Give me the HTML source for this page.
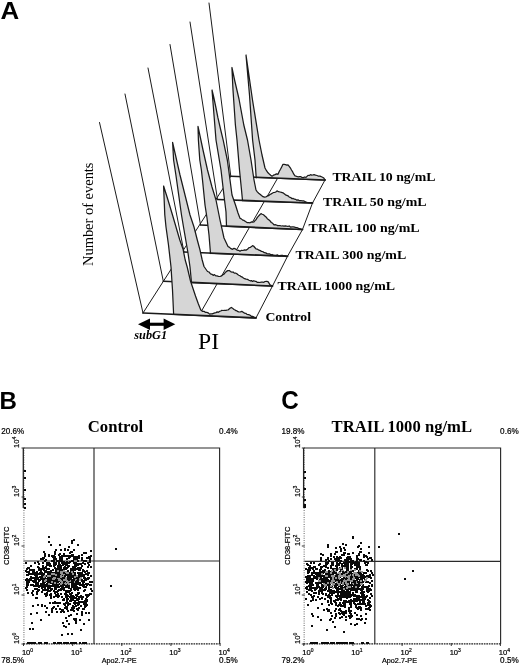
<!DOCTYPE html>
<html lang="en"><head><meta charset="utf-8"><title>Figure</title>
<style>html,body{margin:0;padding:0;background:#fff}svg{display:block}.s{font-family:"Liberation Serif",serif}.a{font-family:"Liberation Sans",sans-serif}</style>
</head><body>
<svg width="520" height="666" viewBox="0 0 520 666">
<rect width="520" height="666" fill="#fff"/>
<g fill="none" stroke="#1a1a1a" stroke-width="1" stroke-linecap="round" stroke-linejoin="round">
<path d="M143,313 L230.8,176.3"/>
<path d="M256,317.9 L272.5,286 L287.5,256.3 L302.5,229.5 L312.5,203 L325,180"/>
<path d="M199,315.4 L277.5,178.4"/>
<path d="M209,3 L230.8,176.3"/>
<path d="M230.8,176.3 L325,180" stroke-width="1.6"/>
<path d="M256.2,177.8 L255.0,160.0 L252.6,140.0 L249.5,95.0 L246.0,55.0 L252.5,100.0 L259.0,140.0 L262.0,155.0 L265.0,168.0 L266.5,170.7 L268.0,172.8 L269.3,174.0 L270.7,175.2 L272.0,176.2 L273.5,175.2 L275.0,174.6 L276.5,173.9 L278.0,174.3 L279.2,171.5 L280.5,169.2 L281.8,166.7 L283.0,164.3 L284.2,164.4 L285.5,164.6 L286.8,165.1 L288.0,164.8 L289.2,166.3 L290.3,167.8 L291.5,170.0 L292.7,171.9 L293.8,174.2 L295.0,175.9 L296.2,176.2 L297.3,176.7 L298.5,176.9 L299.7,176.6 L300.8,176.7 L302.0,177.4 L303.3,177.6 L304.7,177.0 L306.0,177.4 L307.0,176.4 L308.0,175.4 L309.2,175.5 L310.5,174.7 L311.7,175.2 L312.8,175.0 L314.0,174.6 L315.5,175.2 L317.0,175.5 L318.5,176.2 L320.0,176.1 L321.5,176.8 L323.0,177.5 L324.0,178.3 L325.0,180.0 L325,180 L256.2,177.3 Z" fill="#d6d6d6" stroke="none"/>
<path d="M256.2,177.8 L255.0,160.0 L252.6,140.0 L249.5,95.0 L246.0,55.0 L252.5,100.0 L259.0,140.0 L262.0,155.0 L265.0,168.0 L266.5,170.7 L268.0,172.8 L269.3,174.0 L270.7,175.2 L272.0,176.2 L273.5,175.2 L275.0,174.6 L276.5,173.9 L278.0,174.3 L279.2,171.5 L280.5,169.2 L281.8,166.7 L283.0,164.3 L284.2,164.4 L285.5,164.6 L286.8,165.1 L288.0,164.8 L289.2,166.3 L290.3,167.8 L291.5,170.0 L292.7,171.9 L293.8,174.2 L295.0,175.9 L296.2,176.2 L297.3,176.7 L298.5,176.9 L299.7,176.6 L300.8,176.7 L302.0,177.4 L303.3,177.6 L304.7,177.0 L306.0,177.4 L307.0,176.4 L308.0,175.4 L309.2,175.5 L310.5,174.7 L311.7,175.2 L312.8,175.0 L314.0,174.6 L315.5,175.2 L317.0,175.5 L318.5,176.2 L320.0,176.1 L321.5,176.8 L323.0,177.5 L324.0,178.3 L325.0,180.0" stroke-width="1.25"/>
<path d="M256.2,177.3 L325,180" stroke-width="1.6"/>
<path d="M190,22 L217.5,199.5"/>
<path d="M217.5,199.5 L312.5,203" stroke-width="1.6"/>
<path d="M242.5,200.5 L241.5,190.0 L239.5,170.0 L237.0,140.0 L235.4,125.0 L233.0,90.0 L231.9,67.5 L234.8,81.0 L239.0,99.0 L243.8,125.0 L247.5,140.0 L251.0,160.0 L254.0,180.0 L256.0,190.0 L257.3,191.9 L258.7,193.2 L260.0,194.2 L261.5,195.5 L263.0,196.7 L264.5,197.2 L265.8,197.0 L267.0,196.2 L268.5,195.7 L270.0,194.5 L271.2,193.9 L272.3,193.2 L273.5,192.5 L274.7,192.4 L275.8,192.0 L277.0,190.9 L278.5,191.7 L280.0,192.0 L281.5,192.3 L283.0,192.8 L284.2,193.7 L285.5,194.8 L286.8,195.3 L288.0,195.8 L289.3,197.1 L290.7,197.5 L292.0,198.7 L293.2,198.4 L294.4,199.2 L295.6,199.3 L296.8,200.2 L298.0,199.8 L299.4,200.7 L300.8,200.5 L302.2,200.8 L303.6,200.9 L305.0,201.5 L306.2,202.2 L307.5,202.5 L308.8,202.7 L310.0,202.6 L311.2,202.5 L312.5,203.0 L312.5,203 L242.5,200.4 Z" fill="#d6d6d6" stroke="none"/>
<path d="M242.5,200.5 L241.5,190.0 L239.5,170.0 L237.0,140.0 L235.4,125.0 L233.0,90.0 L231.9,67.5 L234.8,81.0 L239.0,99.0 L243.8,125.0 L247.5,140.0 L251.0,160.0 L254.0,180.0 L256.0,190.0 L257.3,191.9 L258.7,193.2 L260.0,194.2 L261.5,195.5 L263.0,196.7 L264.5,197.2 L265.8,197.0 L267.0,196.2 L268.5,195.7 L270.0,194.5 L271.2,193.9 L272.3,193.2 L273.5,192.5 L274.7,192.4 L275.8,192.0 L277.0,190.9 L278.5,191.7 L280.0,192.0 L281.5,192.3 L283.0,192.8 L284.2,193.7 L285.5,194.8 L286.8,195.3 L288.0,195.8 L289.3,197.1 L290.7,197.5 L292.0,198.7 L293.2,198.4 L294.4,199.2 L295.6,199.3 L296.8,200.2 L298.0,199.8 L299.4,200.7 L300.8,200.5 L302.2,200.8 L303.6,200.9 L305.0,201.5 L306.2,202.2 L307.5,202.5 L308.8,202.7 L310.0,202.6 L311.2,202.5 L312.5,203.0" stroke-width="1.25"/>
<path d="M242.5,200.4 L312.5,203" stroke-width="1.6"/>
<path d="M170,44.5 L200.5,225"/>
<path d="M200.5,225 L302.5,229.5" stroke-width="1.6"/>
<path d="M226.5,226.0 L226.0,212.0 L224.5,200.0 L221.0,170.0 L216.0,140.0 L212.0,90.0 L213.8,97.5 L216.0,108.0 L217.9,117.7 L220.5,129.0 L223.3,140.6 L227.3,160.0 L228.7,170.0 L232.0,195.0 L235.5,205.0 L238.0,213.0 L240.0,218.3 L241.3,218.9 L242.7,220.1 L244.0,220.4 L245.5,221.6 L247.0,222.6 L248.5,222.5 L250.0,222.8 L251.3,221.9 L252.7,222.1 L254.0,221.8 L255.0,220.6 L256.0,219.8 L257.2,217.6 L258.5,216.1 L259.8,214.7 L261.0,213.6 L262.2,214.2 L263.5,214.8 L264.8,215.9 L266.0,216.9 L267.3,218.7 L268.7,219.7 L270.0,220.8 L271.3,222.5 L272.7,223.3 L274.0,224.8 L275.2,224.7 L276.4,225.0 L277.6,225.6 L278.8,225.5 L280.0,225.7 L281.3,226.0 L282.7,225.9 L284.0,226.1 L285.3,225.9 L286.7,226.2 L288.0,226.4 L289.3,226.0 L290.7,227.2 L292.0,226.9 L293.3,226.9 L294.7,227.1 L296.0,227.7 L297.3,227.7 L298.6,228.4 L299.9,228.7 L301.2,229.3 L302.5,229.5 L302.5,229.5 L226.5,226.1 Z" fill="#d6d6d6" stroke="none"/>
<path d="M226.5,226.0 L226.0,212.0 L224.5,200.0 L221.0,170.0 L216.0,140.0 L212.0,90.0 L213.8,97.5 L216.0,108.0 L217.9,117.7 L220.5,129.0 L223.3,140.6 L227.3,160.0 L228.7,170.0 L232.0,195.0 L235.5,205.0 L238.0,213.0 L240.0,218.3 L241.3,218.9 L242.7,220.1 L244.0,220.4 L245.5,221.6 L247.0,222.6 L248.5,222.5 L250.0,222.8 L251.3,221.9 L252.7,222.1 L254.0,221.8 L255.0,220.6 L256.0,219.8 L257.2,217.6 L258.5,216.1 L259.8,214.7 L261.0,213.6 L262.2,214.2 L263.5,214.8 L264.8,215.9 L266.0,216.9 L267.3,218.7 L268.7,219.7 L270.0,220.8 L271.3,222.5 L272.7,223.3 L274.0,224.8 L275.2,224.7 L276.4,225.0 L277.6,225.6 L278.8,225.5 L280.0,225.7 L281.3,226.0 L282.7,225.9 L284.0,226.1 L285.3,225.9 L286.7,226.2 L288.0,226.4 L289.3,226.0 L290.7,227.2 L292.0,226.9 L293.3,226.9 L294.7,227.1 L296.0,227.7 L297.3,227.7 L298.6,228.4 L299.9,228.7 L301.2,229.3 L302.5,229.5" stroke-width="1.25"/>
<path d="M226.5,226.1 L302.5,229.5" stroke-width="1.6"/>
<path d="M148,68 L184,252"/>
<path d="M184,252 L287.5,256.3" stroke-width="1.6"/>
<path d="M210.5,253.5 L209.0,235.0 L207.0,218.0 L205.0,205.0 L202.5,180.0 L201.4,170.0 L199.8,160.0 L198.4,140.0 L198.0,126.4 L203.0,150.0 L207.5,170.0 L212.0,187.0 L216.0,200.0 L220.0,220.0 L224.0,238.0 L228.0,246.5 L229.5,247.4 L231.0,248.7 L232.5,249.3 L234.0,248.4 L235.5,248.9 L237.0,250.1 L238.5,250.3 L240.0,251.2 L241.5,250.3 L243.0,250.5 L244.5,249.9 L246.0,250.1 L247.5,249.2 L249.0,247.6 L250.2,247.5 L251.5,246.6 L252.5,245.7 L253.5,246.0 L254.8,247.5 L256.0,248.9 L257.5,249.2 L259.0,250.2 L260.3,250.6 L261.7,251.5 L263.0,251.7 L264.3,252.7 L265.7,252.9 L267.0,253.6 L268.2,253.9 L269.5,253.8 L270.8,254.8 L272.0,254.5 L273.3,255.1 L274.7,255.4 L276.0,255.3 L277.3,254.9 L278.7,255.8 L280.0,255.7 L281.2,255.4 L282.5,255.3 L283.8,256.0 L285.0,255.6 L286.2,256.7 L287.5,256.3 L287.5,256.3 L210.5,253.1 Z" fill="#d6d6d6" stroke="none"/>
<path d="M210.5,253.5 L209.0,235.0 L207.0,218.0 L205.0,205.0 L202.5,180.0 L201.4,170.0 L199.8,160.0 L198.4,140.0 L198.0,126.4 L203.0,150.0 L207.5,170.0 L212.0,187.0 L216.0,200.0 L220.0,220.0 L224.0,238.0 L228.0,246.5 L229.5,247.4 L231.0,248.7 L232.5,249.3 L234.0,248.4 L235.5,248.9 L237.0,250.1 L238.5,250.3 L240.0,251.2 L241.5,250.3 L243.0,250.5 L244.5,249.9 L246.0,250.1 L247.5,249.2 L249.0,247.6 L250.2,247.5 L251.5,246.6 L252.5,245.7 L253.5,246.0 L254.8,247.5 L256.0,248.9 L257.5,249.2 L259.0,250.2 L260.3,250.6 L261.7,251.5 L263.0,251.7 L264.3,252.7 L265.7,252.9 L267.0,253.6 L268.2,253.9 L269.5,253.8 L270.8,254.8 L272.0,254.5 L273.3,255.1 L274.7,255.4 L276.0,255.3 L277.3,254.9 L278.7,255.8 L280.0,255.7 L281.2,255.4 L282.5,255.3 L283.8,256.0 L285.0,255.6 L286.2,256.7 L287.5,256.3" stroke-width="1.25"/>
<path d="M210.5,253.1 L287.5,256.3" stroke-width="1.6"/>
<path d="M125,94 L163.3,281.2"/>
<path d="M163.3,281.2 L272.5,286" stroke-width="1.6"/>
<path d="M191.5,282.6 L190.0,267.0 L188.0,253.0 L183.5,227.0 L181.5,215.0 L175.9,175.0 L173.6,160.0 L172.6,142.3 L180.0,175.0 L185.0,195.0 L190.0,215.0 L194.0,227.0 L197.3,240.0 L200.0,250.0 L202.2,260.0 L204.0,266.5 L207.5,271.5 L209.0,272.0 L210.5,273.8 L212.0,274.3 L213.2,275.4 L214.5,274.6 L215.8,275.9 L217.0,275.9 L218.5,276.3 L220.0,276.5 L221.5,275.9 L222.8,274.8 L224.0,274.1 L225.2,272.5 L226.5,271.4 L227.8,270.6 L229.2,270.5 L230.6,271.6 L232.0,272.2 L233.1,272.0 L234.3,273.1 L235.4,273.0 L236.6,273.5 L237.7,274.5 L238.8,275.2 L240.0,275.8 L241.2,276.7 L242.3,277.1 L243.4,278.0 L244.6,278.7 L246.1,279.2 L247.5,279.4 L249.0,280.2 L250.2,280.8 L251.4,280.6 L252.6,281.4 L253.8,280.7 L255.0,281.3 L256.2,281.4 L257.5,282.4 L258.8,282.4 L260.0,282.5 L261.2,282.0 L262.5,282.0 L263.8,282.3 L265.0,281.5 L266.5,281.3 L268.0,281.6 L269.0,283.2 L270.0,284.8 L271.2,285.4 L272.5,286.0 L272.5,286 L191.5,282.4 Z" fill="#d6d6d6" stroke="none"/>
<path d="M191.5,282.6 L190.0,267.0 L188.0,253.0 L183.5,227.0 L181.5,215.0 L175.9,175.0 L173.6,160.0 L172.6,142.3 L180.0,175.0 L185.0,195.0 L190.0,215.0 L194.0,227.0 L197.3,240.0 L200.0,250.0 L202.2,260.0 L204.0,266.5 L207.5,271.5 L209.0,272.0 L210.5,273.8 L212.0,274.3 L213.2,275.4 L214.5,274.6 L215.8,275.9 L217.0,275.9 L218.5,276.3 L220.0,276.5 L221.5,275.9 L222.8,274.8 L224.0,274.1 L225.2,272.5 L226.5,271.4 L227.8,270.6 L229.2,270.5 L230.6,271.6 L232.0,272.2 L233.1,272.0 L234.3,273.1 L235.4,273.0 L236.6,273.5 L237.7,274.5 L238.8,275.2 L240.0,275.8 L241.2,276.7 L242.3,277.1 L243.4,278.0 L244.6,278.7 L246.1,279.2 L247.5,279.4 L249.0,280.2 L250.2,280.8 L251.4,280.6 L252.6,281.4 L253.8,280.7 L255.0,281.3 L256.2,281.4 L257.5,282.4 L258.8,282.4 L260.0,282.5 L261.2,282.0 L262.5,282.0 L263.8,282.3 L265.0,281.5 L266.5,281.3 L268.0,281.6 L269.0,283.2 L270.0,284.8 L271.2,285.4 L272.5,286.0" stroke-width="1.25"/>
<path d="M191.5,282.4 L272.5,286" stroke-width="1.6"/>
<path d="M99.5,122.5 L143,313"/>
<path d="M143,313 L256,317.9" stroke-width="1.6"/>
<path d="M173.6,313.8 L172.5,290.0 L171.0,267.0 L168.5,245.0 L166.0,227.0 L164.8,215.0 L163.6,186.0 L168.0,200.0 L172.5,215.0 L176.0,227.0 L179.8,240.0 L183.0,249.0 L185.2,260.0 L187.2,267.0 L190.5,281.0 L195.5,296.0 L198.4,304.0 L200.8,310.0 L202.4,311.3 L204.0,311.4 L205.4,312.3 L206.8,312.4 L208.1,312.8 L209.5,314.1 L210.8,313.8 L212.2,313.8 L213.5,313.3 L214.8,312.9 L216.0,312.6 L217.2,311.9 L218.3,312.3 L219.5,311.4 L220.7,311.0 L221.8,310.4 L223.0,310.5 L224.5,310.3 L226.0,310.4 L227.2,310.0 L228.3,309.8 L230.0,308.3 L231.3,307.5 L233.0,308.6 L234.0,309.5 L235.0,309.9 L236.0,310.7 L237.0,310.9 L238.0,311.7 L239.0,312.0 L240.4,311.8 L241.8,311.4 L243.2,312.3 L244.5,313.1 L245.8,313.3 L247.0,314.4 L248.5,314.7 L250.0,315.1 L251.3,316.3 L252.6,316.4 L253.9,317.1 L255.2,317.3 L256,317.9 L173.6,314.3 Z" fill="#d6d6d6" stroke="none"/>
<path d="M173.6,313.8 L172.5,290.0 L171.0,267.0 L168.5,245.0 L166.0,227.0 L164.8,215.0 L163.6,186.0 L168.0,200.0 L172.5,215.0 L176.0,227.0 L179.8,240.0 L183.0,249.0 L185.2,260.0 L187.2,267.0 L190.5,281.0 L195.5,296.0 L198.4,304.0 L200.8,310.0 L202.4,311.3 L204.0,311.4 L205.4,312.3 L206.8,312.4 L208.1,312.8 L209.5,314.1 L210.8,313.8 L212.2,313.8 L213.5,313.3 L214.8,312.9 L216.0,312.6 L217.2,311.9 L218.3,312.3 L219.5,311.4 L220.7,311.0 L221.8,310.4 L223.0,310.5 L224.5,310.3 L226.0,310.4 L227.2,310.0 L228.3,309.8 L230.0,308.3 L231.3,307.5 L233.0,308.6 L234.0,309.5 L235.0,309.9 L236.0,310.7 L237.0,310.9 L238.0,311.7 L239.0,312.0 L240.4,311.8 L241.8,311.4 L243.2,312.3 L244.5,313.1 L245.8,313.3 L247.0,314.4 L248.5,314.7 L250.0,315.1 L251.3,316.3 L252.6,316.4 L253.9,317.1 L255.2,317.3" stroke-width="1.25"/>
<path d="M173.6,314.3 L256,317.9" stroke-width="1.6"/>
</g>
<g fill="#000" stroke="none">
<rect x="147" y="322.7" width="20" height="3.1"/>
<path d="M138,324.2 L150,318.4 L150,330 Z"/>
<path d="M175.3,324.2 L163.6,318.4 L163.6,330 Z"/>
</g>
<g fill="#000">
<text class="a" x="0.5" y="18.6" font-size="24.8" font-weight="bold" textLength="18.7" lengthAdjust="spacingAndGlyphs">A</text>
<text class="a" x="-0.5" y="409.2" font-size="24.8" font-weight="bold" textLength="17.4" lengthAdjust="spacingAndGlyphs">B</text>
<text class="a" x="281.2" y="409.3" font-size="26" font-weight="bold" textLength="17.5" lengthAdjust="spacingAndGlyphs">C</text>
<text class="s" transform="translate(93,266) rotate(-90)" font-size="15.6" textLength="103.5" lengthAdjust="spacingAndGlyphs">Number of events</text>
<text class="s" x="134.3" y="338.8" font-size="12" font-weight="bold" font-style="italic" textLength="32.8" lengthAdjust="spacingAndGlyphs">subG1</text>
<text class="s" x="198" y="349.3" font-size="23.6" textLength="21" lengthAdjust="spacingAndGlyphs">PI</text>
<text class="s" x="332.4" y="181" font-size="13" font-weight="bold" textLength="103" lengthAdjust="spacingAndGlyphs">TRAIL 10 ng/mL</text>
<text class="s" x="323" y="206.4" font-size="13" font-weight="bold" textLength="103.6" lengthAdjust="spacingAndGlyphs">TRAIL 50 ng/mL</text>
<text class="s" x="308.6" y="232" font-size="13" font-weight="bold" textLength="111" lengthAdjust="spacingAndGlyphs">TRAIL 100 ng/mL</text>
<text class="s" x="295.4" y="258.8" font-size="13" font-weight="bold" textLength="110.8" lengthAdjust="spacingAndGlyphs">TRAIL 300 ng/mL</text>
<text class="s" x="277.6" y="289.8" font-size="13" font-weight="bold" textLength="117.4" lengthAdjust="spacingAndGlyphs">TRAIL 1000 ng/mL</text>
<text class="s" x="265.4" y="321.3" font-size="13" font-weight="bold" textLength="45.6" lengthAdjust="spacingAndGlyphs">Control</text>
</g>
<g>
<g fill="none" stroke="#2a2a2a" stroke-width="1.15">
<path d="M23.5,448 H219.6 V644"/>
<path d="M94,448 V644"/>
<path d="M23.5,561 H219.6"/>
</g>
<path d="M23.9,448 V644" stroke="#999" stroke-width="1.5" stroke-dasharray="1 1.3" fill="none"/>
<path d="M23.3,448 V508" stroke="#222" stroke-width="1.3" fill="none"/>
<path d="M23.5,643.8 H219.6" stroke="#222" stroke-width="1.3" stroke-dasharray="1.7 0.8" fill="none"/>
<path d="M21.5,644 H24.5 M23.5,643 V646 M21.5,595 H24.5 M72.65,643 V646 M21.5,546 H24.5 M121.8,643 V646 M21.5,497 H24.5 M170.95,643 V646 M21.5,448 H24.5 M220.1,643 V646" stroke="#333" stroke-width="1" fill="none"/>
<path d="M62,586h2v2h-2zM64,574h2v2h-2zM59,568h2v2h-2zM45,567h2v2h-2zM78,577h2v2h-2zM57,590h2v2h-2zM57,579h2v2h-2zM28,579h2v2h-2zM41,587h2v2h-2zM81,580h2v2h-2zM67,566h2v2h-2zM43,578h2v2h-2zM40,577h2v2h-2zM67,565h2v2h-2zM38,586h2v2h-2zM52,575h2v2h-2zM65,579h2v2h-2zM47,572h2v2h-2zM62,574h2v2h-2zM31,592h2v2h-2zM62,583h2v2h-2zM37,578h2v2h-2zM54,584h2v2h-2zM42,584h2v2h-2zM66,571h2v2h-2zM65,586h2v2h-2zM57,575h2v2h-2zM64,584h2v2h-2zM56,584h2v2h-2zM30,573h2v2h-2zM56,572h2v2h-2zM73,567h2v2h-2zM64,580h2v2h-2zM69,581h2v2h-2zM74,572h2v2h-2zM74,597h2v2h-2zM49,573h2v2h-2zM27,584h2v2h-2zM59,577h2v2h-2zM40,583h2v2h-2zM74,569h2v2h-2zM86,578h2v2h-2zM54,579h2v2h-2zM36,571h2v2h-2zM49,586h2v2h-2zM83,577h2v2h-2zM54,576h2v2h-2zM26,589h2v2h-2zM49,590h2v2h-2zM73,580h2v2h-2zM70,577h2v2h-2zM38,585h2v2h-2zM54,591h2v2h-2zM77,568h2v2h-2zM43,573h2v2h-2zM63,575h2v2h-2zM58,595h2v2h-2zM60,568h2v2h-2zM77,563h2v2h-2zM74,584h2v2h-2zM64,572h2v2h-2zM63,567h2v2h-2zM62,578h2v2h-2zM70,579h2v2h-2zM36,588h2v2h-2zM84,571h2v2h-2zM69,581h2v2h-2zM77,592h2v2h-2zM63,569h2v2h-2zM34,562h2v2h-2zM62,573h2v2h-2zM39,568h2v2h-2zM45,584h2v2h-2zM78,577h2v2h-2zM27,580h2v2h-2zM58,572h2v2h-2zM56,582h2v2h-2zM26,579h2v2h-2zM62,583h2v2h-2zM66,567h2v2h-2zM68,585h2v2h-2zM26,581h2v2h-2zM25,587h2v2h-2zM72,581h2v2h-2zM71,584h2v2h-2zM65,578h2v2h-2zM47,581h2v2h-2zM58,577h2v2h-2zM66,574h2v2h-2zM48,585h2v2h-2zM68,591h2v2h-2zM46,568h2v2h-2zM84,600h2v2h-2zM77,575h2v2h-2zM85,583h2v2h-2zM54,572h2v2h-2zM63,569h2v2h-2zM78,592h2v2h-2zM47,584h2v2h-2zM67,582h2v2h-2zM73,585h2v2h-2zM42,558h2v2h-2zM60,579h2v2h-2zM73,572h2v2h-2zM48,571h2v2h-2zM81,575h2v2h-2zM69,593h2v2h-2zM42,576h2v2h-2zM60,567h2v2h-2zM78,569h2v2h-2zM55,587h2v2h-2zM56,584h2v2h-2zM73,586h2v2h-2zM37,573h2v2h-2zM69,576h2v2h-2zM71,579h2v2h-2zM70,575h2v2h-2zM74,589h2v2h-2zM58,586h2v2h-2zM38,569h2v2h-2zM52,576h2v2h-2zM35,581h2v2h-2zM82,562h2v2h-2zM56,582h2v2h-2zM53,585h2v2h-2zM91,581h2v2h-2zM56,578h2v2h-2zM68,565h2v2h-2zM51,585h2v2h-2zM71,579h2v2h-2zM58,578h2v2h-2zM44,579h2v2h-2zM27,581h2v2h-2zM42,577h2v2h-2zM37,582h2v2h-2zM89,581h2v2h-2zM59,564h2v2h-2zM56,581h2v2h-2zM53,577h2v2h-2zM60,581h2v2h-2zM74,574h2v2h-2zM37,583h2v2h-2zM84,586h2v2h-2zM53,562h2v2h-2zM45,584h2v2h-2zM51,581h2v2h-2zM84,563h2v2h-2zM53,565h2v2h-2zM42,585h2v2h-2zM47,577h2v2h-2zM67,578h2v2h-2zM66,598h2v2h-2zM50,588h2v2h-2zM47,576h2v2h-2zM47,568h2v2h-2zM65,578h2v2h-2zM61,572h2v2h-2zM28,581h2v2h-2zM41,585h2v2h-2zM45,575h2v2h-2zM64,575h2v2h-2zM62,576h2v2h-2zM71,586h2v2h-2zM57,576h2v2h-2zM58,569h2v2h-2zM70,574h2v2h-2zM71,572h2v2h-2zM57,578h2v2h-2zM27,579h2v2h-2zM75,565h2v2h-2zM82,601h2v2h-2zM75,594h2v2h-2zM56,586h2v2h-2zM62,588h2v2h-2zM59,569h2v2h-2zM70,568h2v2h-2zM66,573h2v2h-2zM60,580h2v2h-2zM54,574h2v2h-2zM63,570h2v2h-2zM51,578h2v2h-2zM69,580h2v2h-2zM43,567h2v2h-2zM43,574h2v2h-2zM62,573h2v2h-2zM90,593h2v2h-2zM43,569h2v2h-2zM66,586h2v2h-2zM30,584h2v2h-2zM41,574h2v2h-2zM56,580h2v2h-2zM75,580h2v2h-2zM78,575h2v2h-2zM63,572h2v2h-2zM42,581h2v2h-2zM48,585h2v2h-2zM74,578h2v2h-2zM49,581h2v2h-2zM83,581h2v2h-2zM64,566h2v2h-2zM76,579h2v2h-2zM39,576h2v2h-2zM73,575h2v2h-2zM60,582h2v2h-2zM73,575h2v2h-2zM47,564h2v2h-2zM46,584h2v2h-2zM87,583h2v2h-2zM49,574h2v2h-2zM50,582h2v2h-2zM80,563h2v2h-2zM54,584h2v2h-2zM84,578h2v2h-2zM61,580h2v2h-2zM83,576h2v2h-2zM79,582h2v2h-2zM67,580h2v2h-2zM67,576h2v2h-2zM77,589h2v2h-2zM62,584h2v2h-2zM36,576h2v2h-2zM47,590h2v2h-2zM60,576h2v2h-2zM47,564h2v2h-2zM77,563h2v2h-2zM50,570h2v2h-2zM67,570h2v2h-2zM34,577h2v2h-2zM44,581h2v2h-2zM32,577h2v2h-2zM63,573h2v2h-2zM55,562h2v2h-2zM32,569h2v2h-2zM39,579h2v2h-2zM85,579h2v2h-2zM36,583h2v2h-2zM54,588h2v2h-2zM50,579h2v2h-2zM73,574h2v2h-2zM88,572h2v2h-2zM63,581h2v2h-2zM59,570h2v2h-2zM90,575h2v2h-2zM49,573h2v2h-2zM57,567h2v2h-2zM35,575h2v2h-2zM72,566h2v2h-2zM59,577h2v2h-2zM76,588h2v2h-2zM79,587h2v2h-2zM42,565h2v2h-2zM76,583h2v2h-2zM88,564h2v2h-2zM46,562h2v2h-2zM79,587h2v2h-2zM61,573h2v2h-2zM60,575h2v2h-2zM45,585h2v2h-2zM72,570h2v2h-2zM51,588h2v2h-2zM89,584h2v2h-2zM72,568h2v2h-2zM62,577h2v2h-2zM62,580h2v2h-2zM52,576h2v2h-2zM44,586h2v2h-2zM51,575h2v2h-2zM73,573h2v2h-2zM87,566h2v2h-2zM52,582h2v2h-2zM70,580h2v2h-2zM68,586h2v2h-2zM56,576h2v2h-2zM35,584h2v2h-2zM86,584h2v2h-2zM59,570h2v2h-2zM41,572h2v2h-2zM26,583h2v2h-2zM71,592h2v2h-2zM59,577h2v2h-2zM47,577h2v2h-2zM73,583h2v2h-2zM77,583h2v2h-2zM75,568h2v2h-2zM48,576h2v2h-2zM34,573h2v2h-2zM87,574h2v2h-2zM63,574h2v2h-2zM45,595h2v2h-2zM55,594h2v2h-2zM85,594h2v2h-2zM62,572h2v2h-2zM57,593h2v2h-2zM60,589h2v2h-2zM84,589h2v2h-2zM63,581h2v2h-2zM30,573h2v2h-2zM36,597h2v2h-2zM59,574h2v2h-2zM82,570h2v2h-2zM75,583h2v2h-2zM34,579h2v2h-2zM62,583h2v2h-2zM62,587h2v2h-2zM67,590h2v2h-2zM52,569h2v2h-2zM45,578h2v2h-2zM44,586h2v2h-2zM53,564h2v2h-2zM77,572h2v2h-2zM53,584h2v2h-2zM73,574h2v2h-2zM59,567h2v2h-2zM55,588h2v2h-2zM33,569h2v2h-2zM28,581h2v2h-2zM51,577h2v2h-2zM51,578h2v2h-2zM67,590h2v2h-2zM57,565h2v2h-2zM74,585h2v2h-2zM67,576h2v2h-2zM75,585h2v2h-2zM73,578h2v2h-2zM46,594h2v2h-2zM74,572h2v2h-2zM70,580h2v2h-2zM63,575h2v2h-2zM78,587h2v2h-2zM44,577h2v2h-2zM69,575h2v2h-2zM51,585h2v2h-2zM83,584h2v2h-2zM61,584h2v2h-2zM32,594h2v2h-2zM49,594h2v2h-2zM60,574h2v2h-2zM77,575h2v2h-2zM39,573h2v2h-2zM37,590h2v2h-2zM69,580h2v2h-2zM47,586h2v2h-2zM45,571h2v2h-2zM55,572h2v2h-2zM60,576h2v2h-2zM61,577h2v2h-2zM73,584h2v2h-2zM68,578h2v2h-2zM37,585h2v2h-2zM65,578h2v2h-2zM74,564h2v2h-2zM36,591h2v2h-2zM53,572h2v2h-2zM65,568h2v2h-2zM81,574h2v2h-2zM45,585h2v2h-2zM65,591h2v2h-2zM54,580h2v2h-2zM35,579h2v2h-2zM63,587h2v2h-2zM27,567h2v2h-2zM48,582h2v2h-2zM26,574h2v2h-2zM53,572h2v2h-2zM66,594h2v2h-2zM76,564h2v2h-2zM34,574h2v2h-2zM27,574h2v2h-2zM42,589h2v2h-2zM85,586h2v2h-2zM41,585h2v2h-2zM81,579h2v2h-2zM49,575h2v2h-2zM66,584h2v2h-2zM75,584h2v2h-2zM64,583h2v2h-2zM53,584h2v2h-2zM27,592h2v2h-2zM61,579h2v2h-2zM73,578h2v2h-2zM78,573h2v2h-2zM72,576h2v2h-2zM68,577h2v2h-2zM47,572h2v2h-2zM33,585h2v2h-2zM81,572h2v2h-2zM76,580h2v2h-2zM61,585h2v2h-2zM38,580h2v2h-2zM54,587h2v2h-2zM49,563h2v2h-2zM50,589h2v2h-2zM43,584h2v2h-2zM37,577h2v2h-2zM76,577h2v2h-2zM35,572h2v2h-2zM45,589h2v2h-2zM64,577h2v2h-2zM50,593h2v2h-2zM76,586h2v2h-2zM28,573h2v2h-2zM35,582h2v2h-2zM74,579h2v2h-2zM61,586h2v2h-2zM73,588h2v2h-2zM68,582h2v2h-2zM72,571h2v2h-2zM70,579h2v2h-2zM39,585h2v2h-2zM26,571h2v2h-2zM47,585h2v2h-2zM60,583h2v2h-2zM56,568h2v2h-2zM29,579h2v2h-2zM53,590h2v2h-2zM28,573h2v2h-2zM43,583h2v2h-2zM51,573h2v2h-2zM63,578h2v2h-2zM53,582h2v2h-2zM63,575h2v2h-2zM43,586h2v2h-2zM29,579h2v2h-2zM28,567h2v2h-2zM46,578h2v2h-2zM26,568h2v2h-2zM87,577h2v2h-2zM65,590h2v2h-2zM49,586h2v2h-2zM64,567h2v2h-2zM48,583h2v2h-2zM80,584h2v2h-2zM51,582h2v2h-2zM45,579h2v2h-2zM89,581h2v2h-2zM69,578h2v2h-2zM51,578h2v2h-2zM57,572h2v2h-2zM46,564h2v2h-2zM51,574h2v2h-2zM73,573h2v2h-2zM83,570h2v2h-2zM26,584h2v2h-2zM62,588h2v2h-2zM43,578h2v2h-2zM41,568h2v2h-2zM36,574h2v2h-2zM29,578h2v2h-2zM71,585h2v2h-2zM72,573h2v2h-2zM63,580h2v2h-2zM58,576h2v2h-2zM43,586h2v2h-2zM72,575h2v2h-2zM73,586h2v2h-2zM38,567h2v2h-2zM73,585h2v2h-2zM50,565h2v2h-2zM63,583h2v2h-2zM63,598h2v2h-2zM70,570h2v2h-2zM66,563h2v2h-2zM83,590h2v2h-2zM27,582h2v2h-2zM73,582h2v2h-2zM26,578h2v2h-2zM57,573h2v2h-2zM71,582h2v2h-2zM66,572h2v2h-2zM76,577h2v2h-2zM36,574h2v2h-2zM36,593h2v2h-2zM57,590h2v2h-2zM46,589h2v2h-2zM66,579h2v2h-2zM40,570h2v2h-2zM28,579h2v2h-2zM84,577h2v2h-2zM57,581h2v2h-2zM70,594h2v2h-2zM52,581h2v2h-2zM61,570h2v2h-2zM53,573h2v2h-2zM80,577h2v2h-2zM36,573h2v2h-2zM29,569h2v2h-2zM59,589h2v2h-2zM38,579h2v2h-2zM78,578h2v2h-2zM60,570h2v2h-2zM74,566h2v2h-2zM91,590h2v2h-2zM61,596h2v2h-2zM63,579h2v2h-2zM68,586h2v2h-2zM47,587h2v2h-2zM43,584h2v2h-2zM47,574h2v2h-2zM67,591h2v2h-2zM70,580h2v2h-2zM48,581h2v2h-2zM25,570h2v2h-2zM60,578h2v2h-2zM70,594h2v2h-2zM75,597h2v2h-2zM89,593h2v2h-2zM71,581h2v2h-2zM72,585h2v2h-2zM48,576h2v2h-2zM74,587h2v2h-2zM67,581h2v2h-2zM82,585h2v2h-2zM62,569h2v2h-2zM80,575h2v2h-2zM46,571h2v2h-2zM64,582h2v2h-2zM58,578h2v2h-2zM42,582h2v2h-2zM69,576h2v2h-2zM49,565h2v2h-2zM90,588h2v2h-2zM80,567h2v2h-2zM33,581h2v2h-2zM44,593h2v2h-2zM74,578h2v2h-2zM60,593h2v2h-2zM66,584h2v2h-2zM79,583h2v2h-2zM50,578h2v2h-2zM77,567h2v2h-2zM85,579h2v2h-2zM31,573h2v2h-2zM47,588h2v2h-2zM37,566h2v2h-2zM81,565h2v2h-2zM90,566h2v2h-2zM79,569h2v2h-2zM69,577h2v2h-2zM45,579h2v2h-2zM58,589h2v2h-2zM65,582h2v2h-2zM54,579h2v2h-2zM87,572h2v2h-2zM53,573h2v2h-2zM45,566h2v2h-2zM34,572h2v2h-2zM50,570h2v2h-2zM87,583h2v2h-2zM63,589h2v2h-2zM83,574h2v2h-2zM71,571h2v2h-2zM52,573h2v2h-2zM54,585h2v2h-2zM58,575h2v2h-2zM33,573h2v2h-2zM61,587h2v2h-2zM79,584h2v2h-2zM31,569h2v2h-2zM74,582h2v2h-2zM73,574h2v2h-2zM49,580h2v2h-2zM60,570h2v2h-2zM46,579h2v2h-2zM30,565h2v2h-2zM77,578h2v2h-2zM48,568h2v2h-2zM77,582h2v2h-2zM68,583h2v2h-2zM49,602h2v2h-2zM51,578h2v2h-2zM68,575h2v2h-2zM61,572h2v2h-2zM58,564h2v2h-2zM56,594h2v2h-2zM64,579h2v2h-2zM60,577h2v2h-2zM32,580h2v2h-2zM33,571h2v2h-2zM66,581h2v2h-2zM44,579h2v2h-2zM28,572h2v2h-2zM55,570h2v2h-2zM56,591h2v2h-2zM65,592h2v2h-2zM25,562h2v2h-2zM79,577h2v2h-2zM60,565h2v2h-2zM32,571h2v2h-2zM30,576h2v2h-2zM32,584h2v2h-2zM68,574h2v2h-2zM80,574h2v2h-2zM85,573h2v2h-2zM69,578h2v2h-2zM56,586h2v2h-2zM53,576h2v2h-2zM63,587h2v2h-2zM51,582h2v2h-2zM31,573h2v2h-2zM40,583h2v2h-2zM59,578h2v2h-2zM64,578h2v2h-2zM45,570h2v2h-2zM58,571h2v2h-2zM75,581h2v2h-2zM42,579h2v2h-2zM35,585h2v2h-2zM44,577h2v2h-2zM56,582h2v2h-2zM79,572h2v2h-2zM58,576h2v2h-2zM82,581h2v2h-2zM81,573h2v2h-2zM87,578h2v2h-2zM42,567h2v2h-2zM73,581h2v2h-2zM59,565h2v2h-2zM54,583h2v2h-2zM32,572h2v2h-2zM32,590h2v2h-2zM52,569h2v2h-2zM32,571h2v2h-2zM60,575h2v2h-2zM83,590h2v2h-2zM27,571h2v2h-2zM68,587h2v2h-2zM54,567h2v2h-2zM74,587h2v2h-2zM63,580h2v2h-2zM48,585h2v2h-2zM47,577h2v2h-2zM69,572h2v2h-2zM71,579h2v2h-2zM73,572h2v2h-2zM79,575h2v2h-2zM72,568h2v2h-2zM70,596h2v2h-2zM57,575h2v2h-2zM75,584h2v2h-2zM69,590h2v2h-2zM67,571h2v2h-2zM83,586h2v2h-2zM38,567h2v2h-2zM75,576h2v2h-2zM49,577h2v2h-2zM60,584h2v2h-2zM44,578h2v2h-2zM43,582h2v2h-2zM60,585h2v2h-2zM73,569h2v2h-2zM68,590h2v2h-2zM28,571h2v2h-2zM44,589h2v2h-2zM55,569h2v2h-2zM79,567h2v2h-2zM40,578h2v2h-2zM84,586h2v2h-2zM90,584h2v2h-2zM82,583h2v2h-2zM43,580h2v2h-2zM60,568h2v2h-2zM60,572h2v2h-2zM71,586h2v2h-2zM57,586h2v2h-2zM70,588h2v2h-2zM44,576h2v2h-2zM71,599h2v2h-2zM46,592h2v2h-2zM48,587h2v2h-2zM64,574h2v2h-2zM43,581h2v2h-2zM88,577h2v2h-2zM82,580h2v2h-2zM80,578h2v2h-2zM42,577h2v2h-2zM62,578h2v2h-2zM77,593h2v2h-2zM47,576h2v2h-2zM25,579h2v2h-2zM50,571h2v2h-2zM59,572h2v2h-2zM65,580h2v2h-2zM56,582h2v2h-2zM56,583h2v2h-2zM60,588h2v2h-2zM83,580h2v2h-2zM46,583h2v2h-2zM49,565h2v2h-2zM30,579h2v2h-2zM52,572h2v2h-2zM52,584h2v2h-2zM76,578h2v2h-2zM77,580h2v2h-2zM48,573h2v2h-2zM70,578h2v2h-2zM44,588h2v2h-2zM29,579h2v2h-2zM68,582h2v2h-2zM34,588h2v2h-2zM79,569h2v2h-2zM48,580h2v2h-2zM43,581h2v2h-2zM48,577h2v2h-2zM45,580h2v2h-2zM60,582h2v2h-2zM63,568h2v2h-2zM71,581h2v2h-2zM45,579h2v2h-2zM54,592h2v2h-2zM42,581h2v2h-2zM52,579h2v2h-2zM65,578h2v2h-2zM58,580h2v2h-2zM36,578h2v2h-2zM39,572h2v2h-2zM40,578h2v2h-2zM37,585h2v2h-2zM42,579h2v2h-2zM50,585h2v2h-2zM56,585h2v2h-2zM48,574h2v2h-2zM55,569h2v2h-2zM71,586h2v2h-2zM59,583h2v2h-2zM63,589h2v2h-2zM62,582h2v2h-2zM86,570h2v2h-2zM58,577h2v2h-2zM63,572h2v2h-2zM58,571h2v2h-2zM67,585h2v2h-2zM30,577h2v2h-2zM64,593h2v2h-2zM61,596h2v2h-2zM44,571h2v2h-2zM48,578h2v2h-2zM39,585h2v2h-2zM38,589h2v2h-2zM50,574h2v2h-2zM35,585h2v2h-2zM41,591h2v2h-2zM79,579h2v2h-2zM77,564h2v2h-2zM40,576h2v2h-2zM57,596h2v2h-2zM70,589h2v2h-2zM73,577h2v2h-2zM82,580h2v2h-2zM50,570h2v2h-2zM26,586h2v2h-2zM68,590h2v2h-2zM55,569h2v2h-2zM43,583h2v2h-2zM82,585h2v2h-2zM57,584h2v2h-2zM55,563h2v2h-2zM35,575h2v2h-2zM57,584h2v2h-2zM82,569h2v2h-2zM58,578h2v2h-2zM76,558h2v2h-2zM61,562h2v2h-2zM72,555h2v2h-2zM71,540h2v2h-2zM60,557h2v2h-2zM55,558h2v2h-2zM73,539h2v2h-2zM73,556h2v2h-2zM78,557h2v2h-2zM43,551h2v2h-2zM59,544h2v2h-2zM54,564h2v2h-2zM85,552h2v2h-2zM66,558h2v2h-2zM69,556h2v2h-2zM63,561h2v2h-2zM43,557h2v2h-2zM90,555h2v2h-2zM48,554h2v2h-2zM71,555h2v2h-2zM77,544h2v2h-2zM58,560h2v2h-2zM68,562h2v2h-2zM89,559h2v2h-2zM69,552h2v2h-2zM75,564h2v2h-2zM51,555h2v2h-2zM48,562h2v2h-2zM63,563h2v2h-2zM59,553h2v2h-2zM72,560h2v2h-2zM67,555h2v2h-2zM77,544h2v2h-2zM89,557h2v2h-2zM53,557h2v2h-2zM60,559h2v2h-2zM66,562h2v2h-2zM76,556h2v2h-2zM53,555h2v2h-2zM75,558h2v2h-2zM59,560h2v2h-2zM44,555h2v2h-2zM71,554h2v2h-2zM73,558h2v2h-2zM86,557h2v2h-2zM73,562h2v2h-2zM50,544h2v2h-2zM72,555h2v2h-2zM71,542h2v2h-2zM42,562h2v2h-2zM52,556h2v2h-2zM45,559h2v2h-2zM90,550h2v2h-2zM60,559h2v2h-2zM53,560h2v2h-2zM58,562h2v2h-2zM48,555h2v2h-2zM65,564h2v2h-2zM64,549h2v2h-2zM79,563h2v2h-2zM87,562h2v2h-2zM81,557h2v2h-2zM66,561h2v2h-2zM64,548h2v2h-2zM53,559h2v2h-2zM54,551h2v2h-2zM54,563h2v2h-2zM42,557h2v2h-2zM61,560h2v2h-2zM48,536h2v2h-2zM54,553h2v2h-2zM86,557h2v2h-2zM88,556h2v2h-2zM63,553h2v2h-2zM59,558h2v2h-2zM67,549h2v2h-2zM44,560h2v2h-2zM56,560h2v2h-2zM52,556h2v2h-2zM83,552h2v2h-2zM71,551h2v2h-2zM65,555h2v2h-2zM62,564h2v2h-2zM61,559h2v2h-2zM88,557h2v2h-2zM40,558h2v2h-2zM75,556h2v2h-2zM81,554h2v2h-2zM69,561h2v2h-2zM59,556h2v2h-2zM62,562h2v2h-2zM73,549h2v2h-2zM80,563h2v2h-2zM55,549h2v2h-2zM68,546h2v2h-2zM71,560h2v2h-2zM59,560h2v2h-2zM44,553h2v2h-2zM83,560h2v2h-2zM81,559h2v2h-2zM48,541h2v2h-2zM38,563h2v2h-2zM77,560h2v2h-2zM61,555h2v2h-2zM63,554h2v2h-2zM72,554h2v2h-2zM37,561h2v2h-2zM58,554h2v2h-2zM85,560h2v2h-2zM59,559h2v2h-2zM75,563h2v2h-2zM62,563h2v2h-2zM61,557h2v2h-2zM51,560h2v2h-2zM63,555h2v2h-2zM70,551h2v2h-2zM65,562h2v2h-2zM62,562h2v2h-2zM68,562h2v2h-2zM58,562h2v2h-2zM89,561h2v2h-2zM54,556h2v2h-2zM69,555h2v2h-2zM61,559h2v2h-2zM75,562h2v2h-2zM78,555h2v2h-2zM68,557h2v2h-2zM60,549h2v2h-2zM85,552h2v2h-2zM75,605h2v2h-2zM53,606h2v2h-2zM55,608h2v2h-2zM71,607h2v2h-2zM81,611h2v2h-2zM75,618h2v2h-2zM67,602h2v2h-2zM66,606h2v2h-2zM73,618h2v2h-2zM76,602h2v2h-2zM64,604h2v2h-2zM55,602h2v2h-2zM51,608h2v2h-2zM75,621h2v2h-2zM63,625h2v2h-2zM70,597h2v2h-2zM67,595h2v2h-2zM67,604h2v2h-2zM67,633h2v2h-2zM72,609h2v2h-2zM83,608h2v2h-2zM82,608h2v2h-2zM66,595h2v2h-2zM54,602h2v2h-2zM68,623h2v2h-2zM78,598h2v2h-2zM63,611h2v2h-2zM77,604h2v2h-2zM86,596h2v2h-2zM70,598h2v2h-2zM76,595h2v2h-2zM60,611h2v2h-2zM67,610h2v2h-2zM82,596h2v2h-2zM50,597h2v2h-2zM73,596h2v2h-2zM65,595h2v2h-2zM75,602h2v2h-2zM84,606h2v2h-2zM69,596h2v2h-2zM88,619h2v2h-2zM51,611h2v2h-2zM76,613h2v2h-2zM88,594h2v2h-2zM85,604h2v2h-2zM70,600h2v2h-2zM67,598h2v2h-2zM80,601h2v2h-2zM37,604h2v2h-2zM56,611h2v2h-2zM85,599h2v2h-2zM72,608h2v2h-2zM72,598h2v2h-2zM71,633h2v2h-2zM78,603h2v2h-2zM80,605h2v2h-2zM85,602h2v2h-2zM67,610h2v2h-2zM71,596h2v2h-2zM55,595h2v2h-2zM80,595h2v2h-2zM66,596h2v2h-2zM69,600h2v2h-2zM85,605h2v2h-2zM56,595h2v2h-2zM50,595h2v2h-2zM67,598h2v2h-2zM65,596h2v2h-2zM75,622h2v2h-2zM76,598h2v2h-2zM75,620h2v2h-2zM79,619h2v2h-2zM54,601h2v2h-2zM73,596h2v2h-2zM80,601h2v2h-2zM77,599h2v2h-2zM65,602h2v2h-2zM86,600h2v2h-2zM77,609h2v2h-2zM65,606h2v2h-2zM81,613h2v2h-2zM76,598h2v2h-2zM83,623h2v2h-2zM73,606h2v2h-2zM65,626h2v2h-2zM63,603h2v2h-2zM81,598h2v2h-2zM59,602h2v2h-2zM44,605h2v2h-2zM74,600h2v2h-2zM52,602h2v2h-2zM68,615h2v2h-2zM87,595h2v2h-2zM65,617h2v2h-2zM69,603h2v2h-2zM62,622h2v2h-2zM51,609h2v2h-2zM61,634h2v2h-2zM41,605h2v2h-2zM55,602h2v2h-2zM70,609h2v2h-2zM81,611h2v2h-2zM88,612h2v2h-2zM78,596h2v2h-2zM83,601h2v2h-2zM66,620h2v2h-2zM80,605h2v2h-2zM71,608h2v2h-2zM86,604h2v2h-2zM87,594h2v2h-2zM72,595h2v2h-2zM72,599h2v2h-2zM81,614h2v2h-2zM70,614h2v2h-2zM80,596h2v2h-2zM86,599h2v2h-2zM46,607h2v2h-2zM66,600h2v2h-2zM83,603h2v2h-2zM76,608h2v2h-2zM70,600h2v2h-2zM66,608h2v2h-2zM74,603h2v2h-2zM63,599h2v2h-2zM71,597h2v2h-2zM74,619h2v2h-2zM78,601h2v2h-2zM57,602h2v2h-2zM62,609h2v2h-2zM84,604h2v2h-2zM73,602h2v2h-2zM73,610h2v2h-2zM78,607h2v2h-2zM84,600h2v2h-2zM61,609h2v2h-2zM85,598h2v2h-2zM45,611h2v2h-2zM66,608h2v2h-2zM57,605h2v2h-2zM70,597h2v2h-2zM53,596h2v2h-2zM72,605h2v2h-2zM73,607h2v2h-2zM62,599h2v2h-2zM71,607h2v2h-2zM85,612h2v2h-2zM35,597h2v2h-2zM61,610h2v2h-2zM76,599h2v2h-2zM59,608h2v2h-2zM64,607h2v2h-2zM80,629h2v2h-2zM30,613h2v2h-2zM31,622h2v2h-2zM32,605h2v2h-2zM40,619h2v2h-2zM48,614h2v2h-2zM36,612h2v2h-2zM52,607h2v2h-2zM29,628h2v2h-2zM41,604h2v2h-2zM32,628h2v2h-2zM72,642h2v2h-2zM29,642h2v2h-2zM67,642h2v2h-2zM38,642h2v2h-2zM53,642h2v2h-2zM63,642h2v2h-2zM28,642h2v2h-2zM84,642h2v2h-2zM46,642h2v2h-2zM34,642h2v2h-2zM74,642h2v2h-2zM31,642h2v2h-2zM27,642h2v2h-2zM66,642h2v2h-2zM54,642h2v2h-2zM82,642h2v2h-2zM75,642h2v2h-2zM38,642h2v2h-2zM27,642h2v2h-2zM63,642h2v2h-2zM54,642h2v2h-2zM44,642h2v2h-2zM83,642h2v2h-2zM38,642h2v2h-2zM65,642h2v2h-2zM29,642h2v2h-2zM83,642h2v2h-2zM85,642h2v2h-2zM64,642h2v2h-2zM45,642h2v2h-2zM70,642h2v2h-2zM82,642h2v2h-2zM75,642h2v2h-2zM27,642h2v2h-2zM57,642h2v2h-2zM33,642h2v2h-2zM59,642h2v2h-2zM85,642h2v2h-2zM79,642h2v2h-2zM40,642h2v2h-2zM60,642h2v2h-2zM45,642h2v2h-2zM24,470h2v2h-2zM24,477h2v2h-2zM24,489h2v2h-2zM24,498h2v2h-2zM24,503h2v2h-2zM24,507h2v2h-2zM115,548h2v2h-2zM110,585h2v2h-2z" fill="#0a0a0a"/>
<path d="M60,571h2v2h-2zM54,577h2v2h-2zM71,571h2v2h-2zM53,578h2v2h-2zM66,580h2v2h-2zM57,570h2v2h-2zM53,573h2v2h-2zM63,575h2v2h-2zM54,582h2v2h-2zM61,582h2v2h-2zM59,579h2v2h-2zM60,580h2v2h-2zM68,583h2v2h-2zM55,574h2v2h-2zM57,577h2v2h-2zM65,571h2v2h-2zM72,573h2v2h-2zM76,575h2v2h-2zM67,572h2v2h-2zM75,579h2v2h-2zM79,578h2v2h-2zM63,576h2v2h-2zM45,579h2v2h-2zM79,579h2v2h-2zM62,581h2v2h-2zM65,577h2v2h-2zM63,576h2v2h-2zM60,576h2v2h-2zM51,573h2v2h-2zM49,575h2v2h-2zM62,576h2v2h-2zM63,576h2v2h-2zM43,576h2v2h-2zM61,571h2v2h-2zM65,579h2v2h-2zM74,576h2v2h-2zM68,580h2v2h-2zM60,583h2v2h-2zM54,583h2v2h-2zM57,577h2v2h-2zM65,583h2v2h-2zM63,574h2v2h-2zM53,577h2v2h-2zM67,578h2v2h-2zM69,580h2v2h-2zM47,575h2v2h-2zM80,577h2v2h-2zM45,579h2v2h-2zM63,570h2v2h-2zM63,579h2v2h-2zM57,579h2v2h-2zM52,578h2v2h-2zM74,581h2v2h-2zM60,572h2v2h-2zM44,580h2v2h-2zM66,572h2v2h-2zM60,575h2v2h-2zM51,581h2v2h-2zM44,575h2v2h-2zM64,582h2v2h-2zM57,582h2v2h-2zM63,576h2v2h-2zM71,571h2v2h-2zM67,582h2v2h-2zM63,574h2v2h-2zM63,576h2v2h-2zM48,583h2v2h-2zM61,573h2v2h-2zM58,578h2v2h-2zM66,572h2v2h-2z" fill="#939393"/>
<path d="M67,578h2v2h-2zM57,581h2v2h-2zM75,581h2v2h-2zM54,584h2v2h-2zM63,581h2v2h-2zM63,577h2v2h-2zM57,576h2v2h-2zM68,579h2v2h-2zM62,577h2v2h-2zM57,584h2v2h-2zM64,575h2v2h-2zM76,580h2v2h-2zM56,579h2v2h-2zM53,580h2v2h-2z" fill="#0a0a0a"/>
<g class="a" fill="#000" stroke="#000" stroke-width="0.2" font-size="7.6">
<text x="1.1999999999999993" y="433.8" textLength="23" lengthAdjust="spacingAndGlyphs" font-size="8.2">20.6%</text>
<text x="219.1" y="433.8" textLength="18.6" lengthAdjust="spacingAndGlyphs" font-size="8.2">0.4%</text>
<text x="1.1999999999999993" y="663" textLength="23" lengthAdjust="spacingAndGlyphs" font-size="8.2">78.5%</text>
<text x="219.1" y="663" textLength="18.6" lengthAdjust="spacingAndGlyphs" font-size="8.2">0.5%</text>
<text x="101.7" y="663" textLength="35" lengthAdjust="spacingAndGlyphs">Apo2.7-PE</text>
<text transform="translate(9.2,565) rotate(-90)" textLength="38.5" lengthAdjust="spacingAndGlyphs">CD38-FITC</text>
<text transform="translate(19.3,644) rotate(-90)">10<tspan font-size="5" dy="-3">0</tspan></text>
<text x="21.9" y="655.2">10<tspan font-size="5" dy="-3">0</tspan></text>
<text transform="translate(19.3,595) rotate(-90)">10<tspan font-size="5" dy="-3">1</tspan></text>
<text x="71.05000000000001" y="655.2">10<tspan font-size="5" dy="-3">1</tspan></text>
<text transform="translate(19.3,546) rotate(-90)">10<tspan font-size="5" dy="-3">2</tspan></text>
<text x="120.2" y="655.2">10<tspan font-size="5" dy="-3">2</tspan></text>
<text transform="translate(19.3,497) rotate(-90)">10<tspan font-size="5" dy="-3">3</tspan></text>
<text x="169.35" y="655.2">10<tspan font-size="5" dy="-3">3</tspan></text>
<text transform="translate(19.3,448) rotate(-90)">10<tspan font-size="5" dy="-3">4</tspan></text>
<text x="218.5" y="655.2">10<tspan font-size="5" dy="-3">4</tspan></text>
</g>
<text class="s" x="87.8" y="431.6" font-size="16" font-weight="bold" fill="#000" textLength="55.4" lengthAdjust="spacingAndGlyphs">Control</text>
</g>
<g>
<g fill="none" stroke="#2a2a2a" stroke-width="1.15">
<path d="M303.8,448 H500.6 V644"/>
<path d="M374.8,448 V644"/>
<path d="M303.8,561.4 H500.6"/>
</g>
<path d="M304.2,448 V644" stroke="#999" stroke-width="1.5" stroke-dasharray="1 1.3" fill="none"/>
<path d="M303.6,448 V508" stroke="#222" stroke-width="1.3" fill="none"/>
<path d="M303.8,643.8 H500.6" stroke="#222" stroke-width="1.3" stroke-dasharray="1.7 0.8" fill="none"/>
<path d="M301.8,644 H304.8 M303.8,643 V646 M301.8,595 H304.8 M352.95,643 V646 M301.8,546 H304.8 M402.1,643 V646 M301.8,497 H304.8 M451.25,643 V646 M301.8,448 H304.8 M500.4,643 V646" stroke="#333" stroke-width="1" fill="none"/>
<path d="M372,574h2v2h-2zM325,585h2v2h-2zM318,574h2v2h-2zM306,582h2v2h-2zM352,570h2v2h-2zM350,578h2v2h-2zM346,568h2v2h-2zM330,589h2v2h-2zM339,572h2v2h-2zM356,578h2v2h-2zM353,584h2v2h-2zM321,584h2v2h-2zM317,572h2v2h-2zM312,596h2v2h-2zM307,578h2v2h-2zM361,576h2v2h-2zM325,588h2v2h-2zM331,578h2v2h-2zM357,575h2v2h-2zM341,563h2v2h-2zM312,567h2v2h-2zM370,589h2v2h-2zM347,570h2v2h-2zM336,580h2v2h-2zM328,576h2v2h-2zM336,584h2v2h-2zM367,586h2v2h-2zM316,578h2v2h-2zM359,580h2v2h-2zM357,572h2v2h-2zM346,588h2v2h-2zM312,568h2v2h-2zM354,576h2v2h-2zM332,575h2v2h-2zM324,576h2v2h-2zM358,588h2v2h-2zM342,584h2v2h-2zM332,591h2v2h-2zM321,586h2v2h-2zM326,582h2v2h-2zM356,580h2v2h-2zM361,595h2v2h-2zM350,585h2v2h-2zM310,589h2v2h-2zM319,582h2v2h-2zM342,572h2v2h-2zM340,597h2v2h-2zM358,564h2v2h-2zM342,574h2v2h-2zM328,575h2v2h-2zM369,575h2v2h-2zM354,568h2v2h-2zM323,582h2v2h-2zM319,578h2v2h-2zM312,599h2v2h-2zM313,571h2v2h-2zM335,579h2v2h-2zM359,579h2v2h-2zM361,589h2v2h-2zM354,569h2v2h-2zM310,589h2v2h-2zM337,575h2v2h-2zM350,577h2v2h-2zM346,590h2v2h-2zM352,592h2v2h-2zM345,563h2v2h-2zM331,575h2v2h-2zM311,584h2v2h-2zM326,575h2v2h-2zM313,576h2v2h-2zM329,571h2v2h-2zM322,572h2v2h-2zM371,585h2v2h-2zM341,581h2v2h-2zM353,578h2v2h-2zM332,579h2v2h-2zM309,576h2v2h-2zM356,572h2v2h-2zM326,575h2v2h-2zM333,582h2v2h-2zM307,569h2v2h-2zM347,568h2v2h-2zM351,594h2v2h-2zM309,578h2v2h-2zM330,586h2v2h-2zM368,576h2v2h-2zM331,592h2v2h-2zM341,585h2v2h-2zM309,575h2v2h-2zM343,575h2v2h-2zM361,571h2v2h-2zM328,573h2v2h-2zM340,588h2v2h-2zM341,582h2v2h-2zM330,597h2v2h-2zM345,584h2v2h-2zM337,593h2v2h-2zM367,575h2v2h-2zM363,591h2v2h-2zM310,584h2v2h-2zM319,572h2v2h-2zM343,572h2v2h-2zM323,565h2v2h-2zM354,580h2v2h-2zM336,583h2v2h-2zM349,586h2v2h-2zM342,565h2v2h-2zM330,591h2v2h-2zM344,593h2v2h-2zM365,564h2v2h-2zM327,590h2v2h-2zM320,568h2v2h-2zM359,581h2v2h-2zM344,575h2v2h-2zM330,573h2v2h-2zM359,568h2v2h-2zM339,596h2v2h-2zM331,579h2v2h-2zM362,575h2v2h-2zM306,588h2v2h-2zM319,588h2v2h-2zM371,580h2v2h-2zM364,576h2v2h-2zM315,573h2v2h-2zM345,578h2v2h-2zM346,565h2v2h-2zM342,570h2v2h-2zM308,568h2v2h-2zM339,595h2v2h-2zM357,578h2v2h-2zM337,584h2v2h-2zM324,588h2v2h-2zM354,589h2v2h-2zM346,592h2v2h-2zM357,563h2v2h-2zM314,566h2v2h-2zM325,564h2v2h-2zM340,593h2v2h-2zM336,563h2v2h-2zM354,564h2v2h-2zM331,585h2v2h-2zM306,576h2v2h-2zM337,587h2v2h-2zM313,566h2v2h-2zM348,607h2v2h-2zM364,580h2v2h-2zM348,577h2v2h-2zM331,594h2v2h-2zM338,585h2v2h-2zM341,580h2v2h-2zM341,565h2v2h-2zM345,578h2v2h-2zM326,581h2v2h-2zM313,575h2v2h-2zM334,586h2v2h-2zM350,573h2v2h-2zM343,580h2v2h-2zM325,566h2v2h-2zM322,593h2v2h-2zM339,571h2v2h-2zM347,565h2v2h-2zM350,569h2v2h-2zM358,583h2v2h-2zM367,570h2v2h-2zM320,590h2v2h-2zM307,571h2v2h-2zM335,578h2v2h-2zM320,572h2v2h-2zM341,592h2v2h-2zM346,565h2v2h-2zM319,587h2v2h-2zM361,593h2v2h-2zM321,575h2v2h-2zM311,574h2v2h-2zM318,582h2v2h-2zM319,579h2v2h-2zM356,580h2v2h-2zM357,582h2v2h-2zM337,577h2v2h-2zM337,578h2v2h-2zM311,596h2v2h-2zM310,580h2v2h-2zM362,585h2v2h-2zM338,563h2v2h-2zM308,579h2v2h-2zM360,580h2v2h-2zM342,580h2v2h-2zM326,578h2v2h-2zM340,592h2v2h-2zM337,589h2v2h-2zM317,576h2v2h-2zM342,588h2v2h-2zM357,581h2v2h-2zM353,598h2v2h-2zM343,587h2v2h-2zM350,576h2v2h-2zM339,582h2v2h-2zM311,590h2v2h-2zM353,582h2v2h-2zM311,587h2v2h-2zM365,586h2v2h-2zM341,586h2v2h-2zM362,581h2v2h-2zM333,578h2v2h-2zM318,593h2v2h-2zM320,582h2v2h-2zM366,589h2v2h-2zM319,575h2v2h-2zM359,581h2v2h-2zM341,563h2v2h-2zM336,566h2v2h-2zM313,572h2v2h-2zM363,594h2v2h-2zM363,577h2v2h-2zM316,585h2v2h-2zM355,582h2v2h-2zM342,571h2v2h-2zM340,575h2v2h-2zM353,580h2v2h-2zM355,585h2v2h-2zM323,578h2v2h-2zM337,583h2v2h-2zM333,569h2v2h-2zM345,585h2v2h-2zM346,566h2v2h-2zM313,595h2v2h-2zM362,588h2v2h-2zM325,579h2v2h-2zM366,564h2v2h-2zM330,573h2v2h-2zM343,565h2v2h-2zM333,577h2v2h-2zM355,586h2v2h-2zM329,595h2v2h-2zM345,601h2v2h-2zM359,580h2v2h-2zM315,588h2v2h-2zM306,581h2v2h-2zM330,575h2v2h-2zM343,588h2v2h-2zM321,587h2v2h-2zM328,589h2v2h-2zM370,570h2v2h-2zM364,576h2v2h-2zM329,581h2v2h-2zM350,565h2v2h-2zM351,570h2v2h-2zM340,574h2v2h-2zM349,592h2v2h-2zM344,594h2v2h-2zM330,566h2v2h-2zM316,586h2v2h-2zM324,579h2v2h-2zM363,572h2v2h-2zM332,568h2v2h-2zM350,577h2v2h-2zM308,581h2v2h-2zM329,572h2v2h-2zM320,587h2v2h-2zM324,579h2v2h-2zM359,581h2v2h-2zM365,581h2v2h-2zM315,599h2v2h-2zM355,564h2v2h-2zM318,582h2v2h-2zM327,600h2v2h-2zM357,565h2v2h-2zM336,589h2v2h-2zM357,585h2v2h-2zM306,586h2v2h-2zM308,571h2v2h-2zM336,582h2v2h-2zM320,572h2v2h-2zM349,574h2v2h-2zM323,576h2v2h-2zM335,587h2v2h-2zM345,581h2v2h-2zM328,571h2v2h-2zM365,596h2v2h-2zM363,586h2v2h-2zM357,587h2v2h-2zM352,587h2v2h-2zM309,583h2v2h-2zM334,583h2v2h-2zM327,567h2v2h-2zM326,574h2v2h-2zM323,584h2v2h-2zM359,584h2v2h-2zM356,591h2v2h-2zM346,575h2v2h-2zM344,602h2v2h-2zM346,594h2v2h-2zM347,567h2v2h-2zM344,566h2v2h-2zM342,593h2v2h-2zM309,587h2v2h-2zM341,567h2v2h-2zM323,581h2v2h-2zM326,573h2v2h-2zM342,574h2v2h-2zM333,581h2v2h-2zM315,568h2v2h-2zM329,589h2v2h-2zM337,580h2v2h-2zM352,584h2v2h-2zM319,570h2v2h-2zM348,583h2v2h-2zM352,582h2v2h-2zM327,562h2v2h-2zM350,589h2v2h-2zM362,592h2v2h-2zM324,579h2v2h-2zM350,599h2v2h-2zM313,576h2v2h-2zM347,592h2v2h-2zM341,568h2v2h-2zM329,597h2v2h-2zM324,589h2v2h-2zM321,590h2v2h-2zM350,573h2v2h-2zM350,567h2v2h-2zM342,572h2v2h-2zM322,581h2v2h-2zM318,591h2v2h-2zM306,581h2v2h-2zM350,584h2v2h-2zM325,577h2v2h-2zM345,581h2v2h-2zM351,575h2v2h-2zM349,588h2v2h-2zM341,582h2v2h-2zM367,575h2v2h-2zM317,583h2v2h-2zM336,567h2v2h-2zM348,579h2v2h-2zM358,570h2v2h-2zM324,580h2v2h-2zM340,575h2v2h-2zM331,586h2v2h-2zM339,591h2v2h-2zM370,577h2v2h-2zM352,580h2v2h-2zM353,576h2v2h-2zM341,586h2v2h-2zM335,586h2v2h-2zM355,591h2v2h-2zM313,575h2v2h-2zM307,564h2v2h-2zM343,603h2v2h-2zM355,585h2v2h-2zM321,592h2v2h-2zM357,563h2v2h-2zM329,584h2v2h-2zM324,579h2v2h-2zM306,591h2v2h-2zM358,581h2v2h-2zM360,574h2v2h-2zM339,574h2v2h-2zM305,587h2v2h-2zM320,581h2v2h-2zM327,580h2v2h-2zM350,587h2v2h-2zM309,581h2v2h-2zM341,585h2v2h-2zM342,582h2v2h-2zM316,575h2v2h-2zM310,586h2v2h-2zM348,583h2v2h-2zM340,586h2v2h-2zM340,591h2v2h-2zM307,580h2v2h-2zM332,569h2v2h-2zM334,586h2v2h-2zM365,572h2v2h-2zM330,567h2v2h-2zM319,598h2v2h-2zM358,582h2v2h-2zM358,566h2v2h-2zM349,584h2v2h-2zM314,587h2v2h-2zM356,568h2v2h-2zM346,592h2v2h-2zM306,577h2v2h-2zM318,580h2v2h-2zM341,575h2v2h-2zM313,562h2v2h-2zM356,591h2v2h-2zM337,564h2v2h-2zM335,569h2v2h-2zM325,573h2v2h-2zM330,589h2v2h-2zM309,585h2v2h-2zM330,582h2v2h-2zM315,592h2v2h-2zM362,574h2v2h-2zM344,576h2v2h-2zM360,572h2v2h-2zM340,579h2v2h-2zM336,589h2v2h-2zM342,594h2v2h-2zM322,570h2v2h-2zM339,583h2v2h-2zM330,578h2v2h-2zM342,591h2v2h-2zM317,585h2v2h-2zM356,596h2v2h-2zM340,569h2v2h-2zM351,576h2v2h-2zM311,572h2v2h-2zM318,586h2v2h-2zM359,581h2v2h-2zM325,581h2v2h-2zM342,565h2v2h-2zM334,575h2v2h-2zM344,582h2v2h-2zM366,575h2v2h-2zM351,594h2v2h-2zM320,577h2v2h-2zM366,588h2v2h-2zM328,590h2v2h-2zM320,574h2v2h-2zM314,577h2v2h-2zM357,574h2v2h-2zM307,604h2v2h-2zM339,576h2v2h-2zM356,576h2v2h-2zM332,572h2v2h-2zM356,589h2v2h-2zM333,580h2v2h-2zM322,593h2v2h-2zM310,562h2v2h-2zM367,587h2v2h-2zM328,587h2v2h-2zM359,579h2v2h-2zM334,571h2v2h-2zM351,581h2v2h-2zM319,578h2v2h-2zM348,574h2v2h-2zM324,588h2v2h-2zM329,581h2v2h-2zM328,583h2v2h-2zM336,569h2v2h-2zM319,563h2v2h-2zM333,572h2v2h-2zM325,594h2v2h-2zM339,573h2v2h-2zM329,590h2v2h-2zM350,588h2v2h-2zM339,567h2v2h-2zM358,585h2v2h-2zM322,589h2v2h-2zM344,595h2v2h-2zM328,585h2v2h-2zM306,579h2v2h-2zM310,594h2v2h-2zM348,586h2v2h-2zM360,582h2v2h-2zM308,585h2v2h-2zM357,563h2v2h-2zM342,570h2v2h-2zM345,580h2v2h-2zM351,580h2v2h-2zM342,575h2v2h-2zM337,588h2v2h-2zM360,588h2v2h-2zM323,579h2v2h-2zM323,578h2v2h-2zM341,591h2v2h-2zM347,563h2v2h-2zM330,580h2v2h-2zM361,579h2v2h-2zM332,591h2v2h-2zM353,574h2v2h-2zM317,596h2v2h-2zM335,565h2v2h-2zM321,571h2v2h-2zM351,587h2v2h-2zM353,582h2v2h-2zM362,584h2v2h-2zM336,575h2v2h-2zM363,576h2v2h-2zM322,575h2v2h-2zM321,578h2v2h-2zM346,583h2v2h-2zM328,573h2v2h-2zM342,588h2v2h-2zM325,587h2v2h-2zM330,571h2v2h-2zM343,591h2v2h-2zM337,582h2v2h-2zM349,580h2v2h-2zM333,580h2v2h-2zM317,582h2v2h-2zM327,574h2v2h-2zM333,581h2v2h-2zM325,580h2v2h-2zM353,579h2v2h-2zM344,586h2v2h-2zM330,578h2v2h-2zM319,569h2v2h-2zM362,588h2v2h-2zM333,590h2v2h-2zM341,573h2v2h-2zM310,578h2v2h-2zM346,597h2v2h-2zM357,577h2v2h-2zM333,571h2v2h-2zM321,589h2v2h-2zM348,578h2v2h-2zM369,574h2v2h-2zM360,596h2v2h-2zM367,575h2v2h-2zM356,584h2v2h-2zM313,592h2v2h-2zM316,568h2v2h-2zM320,566h2v2h-2zM335,580h2v2h-2zM334,585h2v2h-2zM324,569h2v2h-2zM316,587h2v2h-2zM359,574h2v2h-2zM329,584h2v2h-2zM334,580h2v2h-2zM311,574h2v2h-2zM309,569h2v2h-2zM346,578h2v2h-2zM340,575h2v2h-2zM325,566h2v2h-2zM332,590h2v2h-2zM331,575h2v2h-2zM341,592h2v2h-2zM307,572h2v2h-2zM359,576h2v2h-2zM347,591h2v2h-2zM352,583h2v2h-2zM344,571h2v2h-2zM331,579h2v2h-2zM349,603h2v2h-2zM365,581h2v2h-2zM308,567h2v2h-2zM315,582h2v2h-2zM340,599h2v2h-2zM349,579h2v2h-2zM344,577h2v2h-2zM360,574h2v2h-2zM360,578h2v2h-2zM331,591h2v2h-2zM352,589h2v2h-2zM331,570h2v2h-2zM334,585h2v2h-2zM326,576h2v2h-2zM345,571h2v2h-2zM323,581h2v2h-2zM319,570h2v2h-2zM340,568h2v2h-2zM351,576h2v2h-2zM345,578h2v2h-2zM326,580h2v2h-2zM305,568h2v2h-2zM354,572h2v2h-2zM308,593h2v2h-2zM316,584h2v2h-2zM330,578h2v2h-2zM315,572h2v2h-2zM324,575h2v2h-2zM328,594h2v2h-2zM332,573h2v2h-2zM335,595h2v2h-2zM319,590h2v2h-2zM351,573h2v2h-2zM349,578h2v2h-2zM351,566h2v2h-2zM371,584h2v2h-2zM316,572h2v2h-2zM371,595h2v2h-2zM353,575h2v2h-2zM338,595h2v2h-2zM340,567h2v2h-2zM310,567h2v2h-2zM354,574h2v2h-2zM356,564h2v2h-2zM337,591h2v2h-2zM356,583h2v2h-2zM333,571h2v2h-2zM366,586h2v2h-2zM305,576h2v2h-2zM328,570h2v2h-2zM335,591h2v2h-2zM349,585h2v2h-2zM344,586h2v2h-2zM345,578h2v2h-2zM370,570h2v2h-2zM308,589h2v2h-2zM346,582h2v2h-2zM351,583h2v2h-2zM346,589h2v2h-2zM349,591h2v2h-2zM346,596h2v2h-2zM359,571h2v2h-2zM347,590h2v2h-2zM344,577h2v2h-2zM354,577h2v2h-2zM358,576h2v2h-2zM333,577h2v2h-2zM316,573h2v2h-2zM332,580h2v2h-2zM333,592h2v2h-2zM344,583h2v2h-2zM341,574h2v2h-2zM346,563h2v2h-2zM317,573h2v2h-2zM332,584h2v2h-2zM322,584h2v2h-2zM312,584h2v2h-2zM352,587h2v2h-2zM325,594h2v2h-2zM341,564h2v2h-2zM362,581h2v2h-2zM345,588h2v2h-2zM347,580h2v2h-2zM347,593h2v2h-2zM346,581h2v2h-2zM366,595h2v2h-2zM349,584h2v2h-2zM357,584h2v2h-2zM335,578h2v2h-2zM324,578h2v2h-2zM343,575h2v2h-2zM309,565h2v2h-2zM353,576h2v2h-2zM335,580h2v2h-2zM312,580h2v2h-2zM347,563h2v2h-2zM331,603h2v2h-2zM345,586h2v2h-2zM341,582h2v2h-2zM350,578h2v2h-2zM333,576h2v2h-2zM348,586h2v2h-2zM345,577h2v2h-2zM339,584h2v2h-2zM345,584h2v2h-2zM358,584h2v2h-2zM317,583h2v2h-2zM326,580h2v2h-2zM320,574h2v2h-2zM336,568h2v2h-2zM338,604h2v2h-2zM364,579h2v2h-2zM315,582h2v2h-2zM369,582h2v2h-2zM341,587h2v2h-2zM368,590h2v2h-2zM334,568h2v2h-2zM363,575h2v2h-2zM322,586h2v2h-2zM326,584h2v2h-2zM323,571h2v2h-2zM348,582h2v2h-2zM355,585h2v2h-2zM351,574h2v2h-2zM353,588h2v2h-2zM327,576h2v2h-2zM312,587h2v2h-2zM350,569h2v2h-2zM339,581h2v2h-2zM315,576h2v2h-2zM318,581h2v2h-2zM359,582h2v2h-2zM327,596h2v2h-2zM328,590h2v2h-2zM313,577h2v2h-2zM341,589h2v2h-2zM332,572h2v2h-2zM358,573h2v2h-2zM354,573h2v2h-2zM337,584h2v2h-2zM307,576h2v2h-2zM314,589h2v2h-2zM311,582h2v2h-2zM359,566h2v2h-2zM341,595h2v2h-2zM328,580h2v2h-2zM339,576h2v2h-2zM318,590h2v2h-2zM332,581h2v2h-2zM355,572h2v2h-2zM347,584h2v2h-2zM343,592h2v2h-2zM312,579h2v2h-2zM366,590h2v2h-2zM366,569h2v2h-2zM306,563h2v2h-2zM310,582h2v2h-2zM338,582h2v2h-2zM347,589h2v2h-2zM360,589h2v2h-2zM306,582h2v2h-2zM323,579h2v2h-2zM350,570h2v2h-2zM330,576h2v2h-2zM337,574h2v2h-2zM307,575h2v2h-2zM338,595h2v2h-2zM323,579h2v2h-2zM363,601h2v2h-2zM343,576h2v2h-2zM352,592h2v2h-2zM353,586h2v2h-2zM340,568h2v2h-2zM327,601h2v2h-2zM349,578h2v2h-2zM339,576h2v2h-2zM329,592h2v2h-2zM339,574h2v2h-2zM335,585h2v2h-2zM363,595h2v2h-2zM312,597h2v2h-2zM309,585h2v2h-2zM343,589h2v2h-2zM335,599h2v2h-2zM347,574h2v2h-2zM326,578h2v2h-2zM361,586h2v2h-2zM337,594h2v2h-2zM324,577h2v2h-2zM321,566h2v2h-2zM348,595h2v2h-2zM361,574h2v2h-2zM334,586h2v2h-2zM365,579h2v2h-2zM361,577h2v2h-2zM306,581h2v2h-2zM341,590h2v2h-2zM305,581h2v2h-2zM310,600h2v2h-2zM327,595h2v2h-2zM371,584h2v2h-2zM311,574h2v2h-2zM325,593h2v2h-2zM353,580h2v2h-2zM343,590h2v2h-2zM330,566h2v2h-2zM345,581h2v2h-2zM347,587h2v2h-2zM361,586h2v2h-2zM330,572h2v2h-2zM360,578h2v2h-2zM368,585h2v2h-2zM353,581h2v2h-2zM367,591h2v2h-2zM323,579h2v2h-2zM348,584h2v2h-2zM327,575h2v2h-2zM355,587h2v2h-2zM338,588h2v2h-2zM345,591h2v2h-2zM367,581h2v2h-2zM315,568h2v2h-2zM349,571h2v2h-2zM319,582h2v2h-2zM336,577h2v2h-2zM313,570h2v2h-2zM346,577h2v2h-2zM345,577h2v2h-2zM330,572h2v2h-2zM324,583h2v2h-2zM355,583h2v2h-2zM323,582h2v2h-2zM330,573h2v2h-2zM343,577h2v2h-2zM371,572h2v2h-2zM312,578h2v2h-2zM326,580h2v2h-2zM330,565h2v2h-2zM318,573h2v2h-2zM311,584h2v2h-2zM310,587h2v2h-2zM369,588h2v2h-2zM327,579h2v2h-2zM369,575h2v2h-2zM333,592h2v2h-2zM353,572h2v2h-2zM305,598h2v2h-2zM363,586h2v2h-2zM368,589h2v2h-2zM320,572h2v2h-2zM355,583h2v2h-2zM361,590h2v2h-2zM306,578h2v2h-2zM356,566h2v2h-2zM359,584h2v2h-2zM326,577h2v2h-2zM360,592h2v2h-2zM345,575h2v2h-2zM370,593h2v2h-2zM348,600h2v2h-2zM327,582h2v2h-2zM337,579h2v2h-2zM359,566h2v2h-2zM347,553h2v2h-2zM350,558h2v2h-2zM347,556h2v2h-2zM367,558h2v2h-2zM327,557h2v2h-2zM336,563h2v2h-2zM364,562h2v2h-2zM327,558h2v2h-2zM356,564h2v2h-2zM327,544h2v2h-2zM334,558h2v2h-2zM345,544h2v2h-2zM347,563h2v2h-2zM356,557h2v2h-2zM356,555h2v2h-2zM350,562h2v2h-2zM318,564h2v2h-2zM335,547h2v2h-2zM358,554h2v2h-2zM344,549h2v2h-2zM360,559h2v2h-2zM339,562h2v2h-2zM340,550h2v2h-2zM328,560h2v2h-2zM326,563h2v2h-2zM365,561h2v2h-2zM337,560h2v2h-2zM356,560h2v2h-2zM350,559h2v2h-2zM320,553h2v2h-2zM339,546h2v2h-2zM357,558h2v2h-2zM343,562h2v2h-2zM358,553h2v2h-2zM346,564h2v2h-2zM347,557h2v2h-2zM330,558h2v2h-2zM320,557h2v2h-2zM360,551h2v2h-2zM343,554h2v2h-2zM360,559h2v2h-2zM341,554h2v2h-2zM348,553h2v2h-2zM349,556h2v2h-2zM347,559h2v2h-2zM367,562h2v2h-2zM346,557h2v2h-2zM352,560h2v2h-2zM338,564h2v2h-2zM358,545h2v2h-2zM363,556h2v2h-2zM340,560h2v2h-2zM353,562h2v2h-2zM345,561h2v2h-2zM344,559h2v2h-2zM335,551h2v2h-2zM355,563h2v2h-2zM360,548h2v2h-2zM364,555h2v2h-2zM357,546h2v2h-2zM371,559h2v2h-2zM368,546h2v2h-2zM336,556h2v2h-2zM333,556h2v2h-2zM335,558h2v2h-2zM359,551h2v2h-2zM325,559h2v2h-2zM332,564h2v2h-2zM358,564h2v2h-2zM352,537h2v2h-2zM347,557h2v2h-2zM342,543h2v2h-2zM338,559h2v2h-2zM344,552h2v2h-2zM330,553h2v2h-2zM345,562h2v2h-2zM327,557h2v2h-2zM340,560h2v2h-2zM334,553h2v2h-2zM331,562h2v2h-2zM331,564h2v2h-2zM352,560h2v2h-2zM345,561h2v2h-2zM356,558h2v2h-2zM347,562h2v2h-2zM347,560h2v2h-2zM339,556h2v2h-2zM320,559h2v2h-2zM369,557h2v2h-2zM327,546h2v2h-2zM337,558h2v2h-2zM363,560h2v2h-2zM349,561h2v2h-2zM325,562h2v2h-2zM336,562h2v2h-2zM370,557h2v2h-2zM358,562h2v2h-2zM331,564h2v2h-2zM340,557h2v2h-2zM347,557h2v2h-2zM322,554h2v2h-2zM336,563h2v2h-2zM338,563h2v2h-2zM352,552h2v2h-2zM368,552h2v2h-2zM346,562h2v2h-2zM355,561h2v2h-2zM343,547h2v2h-2zM346,559h2v2h-2zM355,563h2v2h-2zM360,542h2v2h-2zM335,559h2v2h-2zM359,559h2v2h-2zM347,557h2v2h-2zM363,554h2v2h-2zM349,558h2v2h-2zM342,554h2v2h-2zM335,559h2v2h-2zM352,536h2v2h-2zM330,555h2v2h-2zM366,556h2v2h-2zM357,562h2v2h-2zM350,563h2v2h-2zM365,555h2v2h-2zM338,557h2v2h-2zM351,563h2v2h-2zM336,551h2v2h-2zM351,561h2v2h-2zM332,562h2v2h-2zM369,557h2v2h-2zM349,558h2v2h-2zM344,564h2v2h-2zM343,553h2v2h-2zM356,562h2v2h-2zM343,552h2v2h-2zM340,548h2v2h-2zM360,615h2v2h-2zM359,607h2v2h-2zM348,601h2v2h-2zM365,618h2v2h-2zM338,612h2v2h-2zM336,596h2v2h-2zM366,608h2v2h-2zM354,624h2v2h-2zM349,617h2v2h-2zM368,603h2v2h-2zM364,603h2v2h-2zM321,597h2v2h-2zM354,600h2v2h-2zM354,603h2v2h-2zM365,608h2v2h-2zM365,613h2v2h-2zM334,601h2v2h-2zM348,615h2v2h-2zM359,599h2v2h-2zM335,608h2v2h-2zM344,604h2v2h-2zM342,596h2v2h-2zM354,594h2v2h-2zM349,612h2v2h-2zM341,595h2v2h-2zM367,602h2v2h-2zM350,613h2v2h-2zM353,599h2v2h-2zM360,596h2v2h-2zM345,610h2v2h-2zM350,595h2v2h-2zM360,599h2v2h-2zM350,599h2v2h-2zM342,611h2v2h-2zM346,597h2v2h-2zM355,604h2v2h-2zM350,601h2v2h-2zM353,600h2v2h-2zM348,596h2v2h-2zM346,597h2v2h-2zM329,619h2v2h-2zM344,605h2v2h-2zM342,605h2v2h-2zM354,595h2v2h-2zM362,600h2v2h-2zM357,603h2v2h-2zM348,600h2v2h-2zM339,602h2v2h-2zM344,606h2v2h-2zM354,612h2v2h-2zM348,608h2v2h-2zM328,609h2v2h-2zM349,595h2v2h-2zM355,600h2v2h-2zM356,607h2v2h-2zM340,598h2v2h-2zM362,602h2v2h-2zM334,617h2v2h-2zM328,610h2v2h-2zM343,600h2v2h-2zM361,594h2v2h-2zM355,599h2v2h-2zM348,610h2v2h-2zM356,597h2v2h-2zM369,597h2v2h-2zM357,597h2v2h-2zM361,618h2v2h-2zM367,608h2v2h-2zM341,612h2v2h-2zM340,594h2v2h-2zM344,602h2v2h-2zM357,595h2v2h-2zM362,601h2v2h-2zM360,619h2v2h-2zM353,594h2v2h-2zM369,609h2v2h-2zM341,616h2v2h-2zM345,616h2v2h-2zM354,595h2v2h-2zM350,616h2v2h-2zM348,609h2v2h-2zM355,595h2v2h-2zM339,613h2v2h-2zM323,609h2v2h-2zM356,623h2v2h-2zM340,610h2v2h-2zM364,622h2v2h-2zM367,604h2v2h-2zM363,600h2v2h-2zM369,606h2v2h-2zM350,602h2v2h-2zM370,605h2v2h-2zM348,610h2v2h-2zM351,615h2v2h-2zM338,598h2v2h-2zM359,606h2v2h-2zM320,619h2v2h-2zM358,606h2v2h-2zM354,595h2v2h-2zM350,615h2v2h-2zM337,598h2v2h-2zM354,599h2v2h-2zM333,600h2v2h-2zM342,602h2v2h-2zM348,601h2v2h-2zM340,605h2v2h-2zM369,601h2v2h-2zM346,601h2v2h-2zM360,607h2v2h-2zM353,595h2v2h-2zM349,596h2v2h-2zM358,618h2v2h-2zM345,600h2v2h-2zM350,610h2v2h-2zM340,604h2v2h-2zM344,612h2v2h-2zM359,603h2v2h-2zM369,604h2v2h-2zM331,615h2v2h-2zM358,597h2v2h-2zM324,598h2v2h-2zM349,600h2v2h-2zM359,601h2v2h-2zM361,603h2v2h-2zM350,604h2v2h-2zM345,612h2v2h-2zM335,602h2v2h-2zM357,599h2v2h-2zM344,601h2v2h-2zM342,596h2v2h-2zM356,600h2v2h-2zM330,599h2v2h-2zM343,604h2v2h-2zM343,631h2v2h-2zM342,605h2v2h-2zM330,602h2v2h-2zM335,613h2v2h-2zM360,609h2v2h-2zM343,595h2v2h-2zM363,600h2v2h-2zM364,598h2v2h-2zM332,621h2v2h-2zM355,606h2v2h-2zM368,600h2v2h-2zM327,610h2v2h-2zM347,601h2v2h-2zM358,595h2v2h-2zM350,623h2v2h-2zM328,604h2v2h-2zM357,608h2v2h-2zM356,618h2v2h-2zM367,599h2v2h-2zM368,607h2v2h-2zM336,596h2v2h-2zM356,596h2v2h-2zM359,603h2v2h-2zM350,606h2v2h-2zM317,607h2v2h-2zM337,599h2v2h-2zM330,600h2v2h-2zM345,619h2v2h-2zM334,610h2v2h-2zM362,596h2v2h-2zM343,603h2v2h-2zM363,603h2v2h-2zM356,614h2v2h-2zM330,612h2v2h-2zM342,613h2v2h-2zM355,605h2v2h-2zM339,617h2v2h-2zM346,596h2v2h-2zM337,605h2v2h-2zM357,603h2v2h-2zM339,608h2v2h-2zM353,602h2v2h-2zM344,596h2v2h-2zM349,594h2v2h-2zM338,609h2v2h-2zM343,611h2v2h-2zM344,612h2v2h-2zM352,600h2v2h-2zM337,599h2v2h-2zM359,602h2v2h-2zM365,605h2v2h-2zM337,598h2v2h-2zM362,598h2v2h-2zM349,617h2v2h-2zM355,598h2v2h-2zM343,614h2v2h-2zM363,596h2v2h-2zM335,604h2v2h-2zM362,599h2v2h-2zM317,616h2v2h-2zM326,629h2v2h-2zM330,618h2v2h-2zM311,613h2v2h-2zM321,603h2v2h-2zM312,615h2v2h-2zM326,608h2v2h-2zM335,615h2v2h-2zM334,626h2v2h-2zM311,625h2v2h-2zM336,642h2v2h-2zM310,642h2v2h-2zM331,642h2v2h-2zM350,642h2v2h-2zM330,642h2v2h-2zM361,642h2v2h-2zM352,642h2v2h-2zM324,642h2v2h-2zM333,642h2v2h-2zM366,642h2v2h-2zM344,642h2v2h-2zM314,642h2v2h-2zM331,642h2v2h-2zM316,642h2v2h-2zM321,642h2v2h-2zM341,642h2v2h-2zM323,642h2v2h-2zM367,642h2v2h-2zM340,642h2v2h-2zM339,642h2v2h-2zM346,642h2v2h-2zM313,642h2v2h-2zM349,642h2v2h-2zM339,642h2v2h-2zM343,642h2v2h-2zM310,642h2v2h-2zM337,642h2v2h-2zM352,642h2v2h-2zM325,642h2v2h-2zM331,642h2v2h-2zM362,642h2v2h-2zM310,642h2v2h-2zM333,642h2v2h-2zM344,642h2v2h-2zM312,642h2v2h-2zM333,642h2v2h-2zM366,642h2v2h-2zM339,642h2v2h-2zM327,642h2v2h-2zM322,642h2v2h-2zM326,642h2v2h-2zM333,642h2v2h-2zM304,471h2v2h-2zM304,477h2v2h-2zM304,488h2v2h-2zM304,499h2v2h-2zM304,504h2v2h-2zM304,506h2v2h-2zM398,533h2v2h-2zM378,546h2v2h-2zM412,570h2v2h-2zM404,578h2v2h-2z" fill="#0a0a0a"/>
<path d="M365,579h2v2h-2zM346,569h2v2h-2zM356,574h2v2h-2zM337,582h2v2h-2zM338,577h2v2h-2zM348,577h2v2h-2zM318,580h2v2h-2zM358,575h2v2h-2zM342,570h2v2h-2zM355,574h2v2h-2zM332,578h2v2h-2zM345,575h2v2h-2zM321,573h2v2h-2zM347,583h2v2h-2zM347,586h2v2h-2zM323,583h2v2h-2zM355,586h2v2h-2zM345,573h2v2h-2zM351,580h2v2h-2zM338,568h2v2h-2zM338,575h2v2h-2zM348,579h2v2h-2zM345,582h2v2h-2zM353,572h2v2h-2zM336,579h2v2h-2zM335,571h2v2h-2zM336,573h2v2h-2zM332,587h2v2h-2zM349,574h2v2h-2zM360,583h2v2h-2zM346,583h2v2h-2zM348,575h2v2h-2zM346,584h2v2h-2zM345,580h2v2h-2zM339,575h2v2h-2zM360,580h2v2h-2zM343,573h2v2h-2zM341,575h2v2h-2zM330,572h2v2h-2zM331,575h2v2h-2zM353,577h2v2h-2zM344,567h2v2h-2zM343,571h2v2h-2zM344,576h2v2h-2zM352,578h2v2h-2zM335,573h2v2h-2zM332,578h2v2h-2zM341,570h2v2h-2zM332,576h2v2h-2zM345,580h2v2h-2zM331,582h2v2h-2zM339,573h2v2h-2zM330,585h2v2h-2zM342,582h2v2h-2zM353,578h2v2h-2zM350,580h2v2h-2zM343,575h2v2h-2zM339,582h2v2h-2zM325,571h2v2h-2zM319,580h2v2h-2zM339,572h2v2h-2zM342,583h2v2h-2zM325,575h2v2h-2zM355,572h2v2h-2zM345,582h2v2h-2zM333,583h2v2h-2zM355,573h2v2h-2zM325,584h2v2h-2zM334,569h2v2h-2zM338,577h2v2h-2zM331,570h2v2h-2zM326,575h2v2h-2zM356,581h2v2h-2zM338,584h2v2h-2zM342,571h2v2h-2zM347,571h2v2h-2zM361,571h2v2h-2zM347,574h2v2h-2zM359,570h2v2h-2zM337,581h2v2h-2zM352,576h2v2h-2zM352,574h2v2h-2zM340,567h2v2h-2zM335,577h2v2h-2zM357,574h2v2h-2zM330,582h2v2h-2zM354,569h2v2h-2zM343,580h2v2h-2zM339,582h2v2h-2zM343,588h2v2h-2zM340,579h2v2h-2zM349,586h2v2h-2zM336,581h2v2h-2zM347,573h2v2h-2zM361,583h2v2h-2zM346,587h2v2h-2zM348,581h2v2h-2zM347,579h2v2h-2zM356,582h2v2h-2zM356,573h2v2h-2zM351,576h2v2h-2zM332,584h2v2h-2zM350,569h2v2h-2zM333,580h2v2h-2zM331,580h2v2h-2zM327,582h2v2h-2zM364,580h2v2h-2zM339,580h2v2h-2zM339,579h2v2h-2zM326,571h2v2h-2zM344,579h2v2h-2zM333,575h2v2h-2zM339,580h2v2h-2zM324,585h2v2h-2zM338,572h2v2h-2zM352,583h2v2h-2zM352,574h2v2h-2zM347,576h2v2h-2zM366,577h2v2h-2zM318,577h2v2h-2z" fill="#939393"/>
<path d="M342,578h2v2h-2zM357,581h2v2h-2zM338,581h2v2h-2zM346,574h2v2h-2zM350,576h2v2h-2zM348,581h2v2h-2zM343,577h2v2h-2zM345,578h2v2h-2zM338,580h2v2h-2zM348,573h2v2h-2zM351,576h2v2h-2zM342,571h2v2h-2zM336,574h2v2h-2zM340,579h2v2h-2zM346,569h2v2h-2zM351,584h2v2h-2zM350,572h2v2h-2zM321,580h2v2h-2zM338,581h2v2h-2zM336,579h2v2h-2zM341,578h2v2h-2zM335,572h2v2h-2zM343,572h2v2h-2zM346,569h2v2h-2z" fill="#0a0a0a"/>
<g class="a" fill="#000" stroke="#000" stroke-width="0.2" font-size="7.6">
<text x="281.5" y="433.8" textLength="23" lengthAdjust="spacingAndGlyphs" font-size="8.2">19.8%</text>
<text x="500.1" y="433.8" textLength="18.6" lengthAdjust="spacingAndGlyphs" font-size="8.2">0.6%</text>
<text x="281.5" y="663" textLength="23" lengthAdjust="spacingAndGlyphs" font-size="8.2">79.2%</text>
<text x="500.1" y="663" textLength="18.6" lengthAdjust="spacingAndGlyphs" font-size="8.2">0.5%</text>
<text x="382.0" y="663" textLength="35" lengthAdjust="spacingAndGlyphs">Apo2.7-PE</text>
<text transform="translate(289.5,565) rotate(-90)" textLength="38.5" lengthAdjust="spacingAndGlyphs">CD38-FITC</text>
<text transform="translate(299.6,644) rotate(-90)">10<tspan font-size="5" dy="-3">0</tspan></text>
<text x="302.2" y="655.2">10<tspan font-size="5" dy="-3">0</tspan></text>
<text transform="translate(299.6,595) rotate(-90)">10<tspan font-size="5" dy="-3">1</tspan></text>
<text x="351.34999999999997" y="655.2">10<tspan font-size="5" dy="-3">1</tspan></text>
<text transform="translate(299.6,546) rotate(-90)">10<tspan font-size="5" dy="-3">2</tspan></text>
<text x="400.5" y="655.2">10<tspan font-size="5" dy="-3">2</tspan></text>
<text transform="translate(299.6,497) rotate(-90)">10<tspan font-size="5" dy="-3">3</tspan></text>
<text x="449.65" y="655.2">10<tspan font-size="5" dy="-3">3</tspan></text>
<text transform="translate(299.6,448) rotate(-90)">10<tspan font-size="5" dy="-3">4</tspan></text>
<text x="498.79999999999995" y="655.2">10<tspan font-size="5" dy="-3">4</tspan></text>
</g>
<text class="s" x="331.6" y="431.6" font-size="16" font-weight="bold" fill="#000" textLength="140.4" lengthAdjust="spacingAndGlyphs">TRAIL 1000 ng/mL</text>
</g>
</svg>
</body></html>
